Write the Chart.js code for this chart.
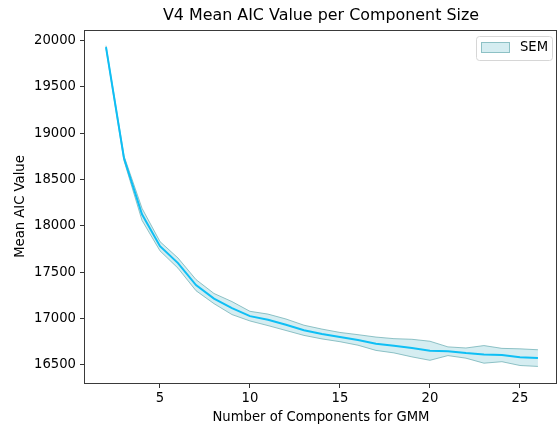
<!DOCTYPE html>
<html>
<head>
<meta charset="utf-8">
<script src="https://cdn.jsdelivr.net/npm/chart.js@4.4.1/dist/chart.umd.min.js"></script>
<style>
  html, body { margin: 0; padding: 0; background: #ffffff; }
  #wrap { width: 559px; height: 429px; position: relative; }
</style>
</head>
<body>
<div id="wrap"><canvas id="chart" width="559" height="429"></canvas></div>
<script>
// Number of GMM components tried
const components = [2, 3, 4, 5, 6, 7, 8, 9, 10, 11, 12, 13, 14, 15, 16, 17, 18, 19, 20, 21, 22, 23, 24, 25, 26];

// Mean AIC for each component count
const meanAic = [19930, 18730, 18125, 17780, 17598, 17360, 17215, 17112, 17025, 16985, 16932, 16872, 16832,
                 16799, 16768, 16727, 16705, 16680, 16651, 16646, 16626, 16612, 16605, 16582, 16572];

// Standard error of the mean for each component count
const semAic = [15, 25, 65, 50, 55, 60, 55, 70, 52, 62, 62, 55, 53,
                50, 57, 72, 77, 95, 103, 47, 55, 95, 72, 90, 90];

// Axis tick labels
const xTicks = [5, 10, 15, 20, 25];
const yTicks = [16500, 17000, 17500, 18000, 18500, 19000, 19500, 20000];

const titleText = 'V4 Mean AIC Value per Component Size';
const FONT = "'DejaVu Sans', sans-serif";

const upper = components.map((c, i) => ({ x: c, y: meanAic[i] + semAic[i] }));
const lower = components.map((c, i) => ({ x: c, y: meanAic[i] - semAic[i] }));
const mean = components.map((c, i) => ({ x: c, y: meanAic[i] }));

const bandFill = 'rgba(150, 210, 220, 0.40)';
const bandEdge = 'rgba(110, 175, 180, 0.75)';
const lineColor = '#0fbff5';

// Frame around the plot area, title above it, and the SEM legend box
const framePlugin = {
  id: 'frame',
  afterDraw(chart) {
    const { ctx, chartArea: a } = chart;
    ctx.save();
    ctx.strokeStyle = '#3a3a3a';
    ctx.lineWidth = 1;
    ctx.strokeRect(Math.round(a.left) - 0.5, Math.round(a.top) + 0.5,
                   Math.round(a.right - a.left), Math.round(a.bottom - a.top));

    // title centred over the plot area
    ctx.fillStyle = '#000';
    ctx.font = `15.9px ${FONT}`;
    ctx.textAlign = 'center';
    ctx.textBaseline = 'middle';
    ctx.fillText(titleText, (a.left + a.right) / 2, 16);

    // legend
    const bx = 476.5, by = 36.5, bw = 76, bh = 24;
    ctx.fillStyle = 'rgba(255,255,255,0.8)';
    ctx.strokeStyle = '#d6d6d6';
    ctx.beginPath();
    if (ctx.roundRect) ctx.roundRect(bx, by, bw, bh, 3); else ctx.rect(bx, by, bw, bh);
    ctx.fill();
    ctx.stroke();
    ctx.fillStyle = bandFill;
    ctx.fillRect(481.5, 42.5, 28, 10);
    ctx.strokeStyle = bandEdge;
    ctx.strokeRect(481.5, 42.5, 28, 10);
    ctx.fillStyle = '#000';
    ctx.font = `13.2px ${FONT}`;
    ctx.textAlign = 'left';
    ctx.fillText('SEM', 520, 48);
    ctx.restore();
  }
};

new Chart(document.getElementById('chart'), {
  type: 'line',
  data: {
    datasets: [
      { label: 'SEM', data: upper, borderColor: bandEdge, borderWidth: 1, backgroundColor: bandFill,
        fill: '+1', pointRadius: 0, tension: 0, order: 2 },
      { label: 'SEM lower', data: lower, borderColor: bandEdge, borderWidth: 1, backgroundColor: bandFill,
        fill: false, pointRadius: 0, tension: 0, order: 1 },
      { label: 'Mean AIC', data: mean, borderColor: lineColor, borderWidth: 2, fill: false,
        pointRadius: 0, tension: 0, order: 0 }
    ]
  },
  options: {
    responsive: false,
    animation: false,
    events: [],
    layout: { padding: { left: 0, right: 2, top: 30, bottom: 0 } },
    plugins: { legend: { display: false }, title: { display: false }, tooltip: { enabled: false } },
    scales: {
      x: {
        type: 'linear',
        min: 0.833,
        max: 27.06,
        afterFit(scale) { scale.height = 46; },
        afterBuildTicks(scale) { scale.ticks = xTicks.map(v => ({ value: v })); },
        border: { display: false },
        grid: { drawOnChartArea: false, drawTicks: true, tickLength: 5, color: '#333' },
        ticks: { color: '#000', font: { family: FONT, size: 13.2 }, padding: 3, maxRotation: 0 },
        title: { display: true, text: 'Number of Components for GMM', color: '#000',
                 font: { family: FONT, size: 13.2 }, padding: { top: 0, bottom: 4 } }
      },
      y: {
        type: 'linear',
        min: 16303,
        max: 20115,
        afterFit(scale) { scale.width = 85; },
        afterBuildTicks(scale) { scale.ticks = yTicks.map(v => ({ value: v })); },
        border: { display: false },
        grid: { drawOnChartArea: false, drawTicks: true, tickLength: 5, color: '#333' },
        ticks: { color: '#000', font: { family: FONT, size: 13.2 }, padding: 4,
                 callback: v => String(v) },
        title: { display: true, text: 'Mean AIC Value', color: '#000',
                 font: { family: FONT, size: 13.2 }, padding: { top: 13, bottom: 0 } }
      }
    }
  },
  plugins: [framePlugin]
});
</script>
</body>
</html>
